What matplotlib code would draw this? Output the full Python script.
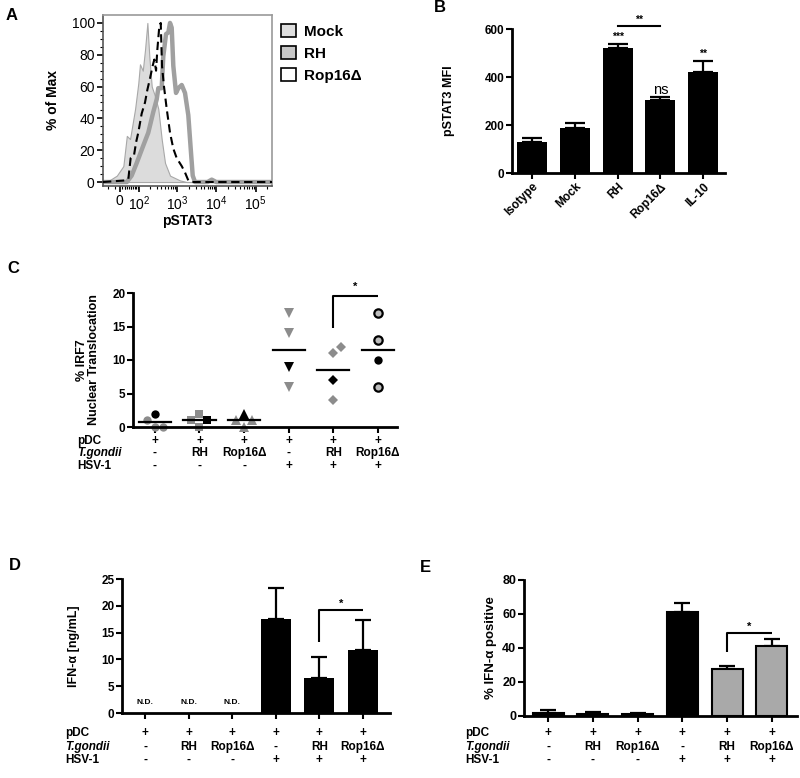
import numpy as np
import matplotlib
matplotlib.use("Agg")
import matplotlib.pyplot as plt
import matplotlib.transforms as mtransforms
from matplotlib.patches import Patch
from matplotlib.ticker import FixedLocator, NullFormatter

plt.rcParams['font.family'] = ['Liberation Sans', 'DejaVu Sans']
plt.rcParams['mathtext.fontset'] = 'custom'
plt.rcParams['mathtext.rm'] = 'Liberation Sans'
plt.rcParams['mathtext.it'] = 'Liberation Sans:italic'
plt.rcParams['mathtext.bf'] = 'Liberation Sans:bold'

W, H = 800, 778

# ---------------- data ----------------
# Panel A: flow cytometry histograms (pSTAT3 intensity vs % of max)
mock_int = [-80, -59, -12, 15, 30, 45, 72, 92, 104, 126, 146, 170, 192, 223, 272, 332, 406, 495, 665, 1197, 1771, 262144]
mock_pct = [0, 0, 4, 10, 29, 27, 46, 62, 74, 70, 83, 100, 79, 60, 54, 46, 27, 12, 4, 1, 0, 0]
rh_int = [-80, 30, 53, 82, 131, 180, 245, 302, 332, 406, 447, 525, 602, 665, 734, 807, 946, 1083, 1323,
          1603, 1946, 2240, 2520, 2884, 6000, 7672, 10000, 262144]
rh_pct = [0, 0, 4, 12, 23, 31, 44, 52, 59, 59, 79, 93, 94, 100, 97, 73, 56, 59, 61,
          56, 42, 21, 4, 0, 0, 1.5, 0, 0]
rop_int = [-80, 22, 37, 48, 66, 78, 92, 117, 146, 170, 200, 236, 261, 290, 313, 353, 384, 414, 466, 547,
           665, 807, 986, 1323, 1603, 1946, 2373, 262144]
rop_pct = [0, 1, 2, 15, 17, 25, 31, 43, 50, 58, 65, 73, 77, 70, 83, 98, 100, 73, 60, 46,
           31, 21, 15, 10, 6, 1, 0, 0]
a_legend = ['Mock', 'RH', 'Rop16Δ']
a_xticks = [0, 100, 1000, 10000, 100000]
a_xticklabels = ['0', r'$10^2$', r'$10^3$', r'$10^4$', r'$10^5$']

# Panel B: pSTAT3 MFI
b_cats = ['Isotype', 'Mock', 'RH', 'Rop16Δ', 'IL-10']
b_vals = [130, 188, 520, 304, 422]
b_err = [16, 19, 17, 11, 46]
b_sig = ['', '', '***', 'ns', '**']

# Shared condition table (C, D, E)
cond_pdc = ['+', '+', '+', '+', '+', '+']
cond_tg = ['-', 'RH', 'Rop16Δ', '-', 'RH', 'Rop16Δ']
cond_hsv = ['-', '-', '-', '+', '+', '+']

# Panel C: % IRF7 nuclear translocation (individual points)
c_vals = [[2, 0, 0, 1], [2, 0, 1, 1], [2, 1, 0, 1], [17, 14, 9, 6], [11, 12, 7, 4], [17, 13, 10, 6]]
c_black = [0, 2, 0, 2, 2, 2]

# Panel D: IFN-alpha ng/mL (NaN = not detected)
d_vals = [np.nan, np.nan, np.nan, 17.6, 6.6, 11.8]
d_err = [np.nan, np.nan, np.nan, 5.8, 3.9, 5.5]

# Panel E: % IFN-alpha positive
e_vals = [2.0, 1.4, 1.0, 61.3, 27.5, 41.3]
e_err = [1.3, 1.2, 0.8, 4.9, 2.0, 3.9]

# ---------------- helpers ----------------
fig = plt.figure(figsize=(8.0, 7.78), dpi=100)


def box(l, t, r, b):
    return [l / W, 1 - b / H, (r - l) / W, (b - t) / H]


def fy(y):
    return 1 - y / H


def style_axes(ax, fs=8):
    for s in ['top', 'right']:
        ax.spines[s].set_visible(False)
    for s in ['left', 'bottom']:
        ax.spines[s].set_linewidth(2)
    ax.tick_params(direction='out', length=4, width=1.5, labelsize=fs, pad=1.5)
    for lab in ax.get_yticklabels():
        lab.set_fontweight('bold')


def panel_letter(x, y, s):
    fig.text(x / W, fy(y), s, fontsize=12, fontweight='bold', ha='center', va='center')


def draw_table(ax, label_x, rows_y):
    trans = mtransforms.blended_transform_factory(ax.transData, fig.transFigure)
    names = ['pDC', 'T.gondii', 'HSV-1']
    rows = [cond_pdc, cond_tg, cond_hsv]
    for name, row, y in zip(names, rows, rows_y):
        fig.text(label_x / W, fy(y), name, fontsize=8.5, fontweight='bold',
                 fontstyle='italic' if name == 'T.gondii' else 'normal', ha='left', va='center')
        for i, v in enumerate(row):
            ax.text(i, fy(y), v, transform=trans, fontsize=8.5, fontweight='bold',
                    ha='center', va='center')


def swarm_offsets(vals, step, px_x, px_y, min_px):
    placed = []
    for v in vals:
        for k in [0, 1, -1, 2, -2]:
            if all(np.hypot((k - pk) * step * px_x, (v - pv) * px_y) >= min_px - 1e-6 for pk, pv in placed):
                break
        placed.append((k, v))
    return [k * step for k, _ in placed]


def bracket(ax, x0, x1, y0, y1, star, ystar, fs=8):
    ax.plot([x0, x0, x1], [y0, y1, y1], color='k', lw=1.5, clip_on=False, solid_capstyle='butt')
    ax.text((x0 + x1) / 2, ystar, star, ha='center', va='center', fontsize=fs, fontweight='bold')


# ---------------- Panel A ----------------
axA = fig.add_axes(box(103, 15, 272, 186))
axA.set_xscale('asinh', linear_width=70)
axA.fill_between(mock_int, mock_pct, 0, facecolor='#dcdcdc', edgecolor='#a8a8a8', lw=0.8, zorder=1)
axA.plot(rh_int, rh_pct, color='#a0a0a0', lw=3.2, zorder=2)
axA.plot(rop_int, rop_pct, color='black', lw=1.5, dashes=(4, 2.2), zorder=3)
axA.set_xlim(-80, 262144)
axA.set_ylim(-2.5, 105)
axA.xaxis.set_major_locator(FixedLocator(a_xticks))
axA.set_xticklabels(a_xticklabels)
minors = [k * 10 ** e for e in range(1, 6) for k in range(2, 10)] + [-50, -20, 10, 20, 50]
axA.xaxis.set_minor_locator(FixedLocator([m for m in minors if m < 262144]))
axA.xaxis.set_minor_formatter(NullFormatter())
axA.set_yticks([0, 20, 40, 60, 80, 100])
axA.yaxis.set_minor_locator(FixedLocator(np.arange(0, 101, 5)))
axA.tick_params(axis='both', which='major', direction='out', length=4, width=1.2, labelsize=10, pad=2)
axA.tick_params(axis='both', which='minor', direction='out', length=2, width=0.8)
for s in ['top', 'right']:
    axA.spines[s].set_color('#9a9a9a')
    axA.spines[s].set_linewidth(1.2)
for s in ['left', 'bottom']:
    axA.spines[s].set_color('#555555')
    axA.spines[s].set_linewidth(1.2)
axA.set_ylabel('% of Max', fontsize=10, fontweight='bold')
axA.yaxis.set_label_coords(-0.254, 0.5)
axA.set_xlabel('pSTAT3', fontsize=10, fontweight='bold', labelpad=1)
handles = [Patch(facecolor='#dedede', edgecolor='black', lw=1.2),
           Patch(facecolor='#c8c8c8', edgecolor='black', lw=1.2),
           Patch(facecolor='white', edgecolor='black', lw=1.2)]
leg = fig.legend(handles, a_legend, loc='upper left', bbox_to_anchor=(270 / W, fy(13)),
                 frameon=False, prop={'weight': 'bold', 'size': 11}, handlelength=1.0,
                 handleheight=1.0, handletextpad=0.5, labelspacing=0.45, borderpad=0.2)
panel_letter(12, 16, 'A')

# ---------------- Panel B ----------------
axB = fig.add_axes(box(512, 29, 725, 173))
xb = np.arange(len(b_cats))
axB.bar(xb, b_vals, width=0.7, color='black', zorder=2)
axB.errorbar(xb, b_vals, yerr=[np.zeros(len(b_vals)), b_err], fmt='none', ecolor='black',
             elinewidth=1.6, capsize=7, capthick=1.6, zorder=1)
axB.set_xlim(-0.47, 4.51)
axB.set_ylim(0, 600)
axB.set_yticks([0, 200, 400, 600])
axB.set_xticks(xb)
axB.set_xticklabels(b_cats, rotation=45, ha='right', rotation_mode='anchor', fontweight='bold', fontsize=8.5)
style_axes(axB, 8.5)
axB.set_ylabel('pSTAT3 MFI', fontsize=9, fontweight='bold')
axB.yaxis.set_label_coords(-0.268, 0.5)
for i, s in enumerate(b_sig):
    if s == 'ns':
        axB.text(i, b_vals[i] + b_err[i] + 32, s, ha='center', va='center', fontsize=10.5)
    elif s:
        axB.text(i, b_vals[i] + b_err[i] + 30, s, ha='center', va='center', fontsize=7.5, fontweight='bold')
axB.plot([2, 3], [612, 612], color='black', lw=1.5, clip_on=False)
axB.text(2.5, 640, '**', ha='center', va='center', fontsize=7.5, fontweight='bold')
panel_letter(440, 8, 'B')

# ---------------- Panel C ----------------
axC = fig.add_axes(box(133, 293, 397, 427))
markers = ['o', 's', '^', 'v', 'D', 'o']
msizes = [6, 6, 6.5, 6.5, 5.5, 6]
px_x, px_y = 44.6, 134 / 20
for g, vals in enumerate(c_vals):
    offs = swarm_offsets(vals, 0.18, px_x, px_y, 8)
    for j, (v, o) in enumerate(zip(vals, offs)):
        black = (j == c_black[g])
        if g == 5 and not black:
            fc, ec, mew = '#bdbdbd', 'black', 1.6
        elif black:
            fc, ec, mew = 'black', 'black', 0
        else:
            fc, ec, mew = '#8c8c8c', '#8c8c8c', 0
        axC.plot(g + o, v, marker=markers[g], ms=msizes[g], mfc=fc, mec=ec, mew=mew,
                 ls='none', clip_on=False, zorder=3 if black else 2)
    m = np.mean(vals)
    axC.plot([g - 0.36, g + 0.36], [m, m], color='black', lw=1.6, zorder=4, clip_on=False)
axC.set_xlim(-0.49, 5.43)
axC.set_ylim(0, 20)
axC.set_yticks([0, 5, 10, 15, 20])
axC.set_xticks(range(6))
axC.set_xticklabels([])
style_axes(axC, 8.5)
axC.set_ylabel('% IRF7\nNuclear Translocation', fontsize=9, fontweight='bold', linespacing=1.0)
axC.yaxis.set_label_coords(-0.125, 0.5)
bracket(axC, 4, 5, 14.8, 19.5, '*', 20.9)
draw_table(axC, 77, [441, 453, 466])
panel_letter(13, 268, 'C')

# ---------------- Panel D ----------------
axD = fig.add_axes(box(122, 579, 390, 713))
xd = np.arange(len(d_vals))
dv = np.array(d_vals)
de = np.array(d_err)
ok = ~np.isnan(dv)
axD.bar(xd[ok], dv[ok], width=0.69, color='black', zorder=2)
axD.errorbar(xd[ok], dv[ok], yerr=[np.zeros(ok.sum()), de[ok]], fmt='none', ecolor='black',
             elinewidth=1.6, capsize=6, capthick=1.6, zorder=1)
for i in xd[~ok]:
    axD.text(i, 1.9, 'N.D.', ha='center', va='center', fontsize=6, fontweight='bold')
axD.set_xlim(-0.53, 5.62)
axD.set_ylim(0, 25)
axD.set_yticks([0, 5, 10, 15, 20, 25])
axD.set_xticks(range(6))
axD.set_xticklabels([])
style_axes(axD, 8.5)
axD.set_ylabel('IFN-α [ng/mL]', fontsize=9, fontweight='bold')
axD.yaxis.set_label_coords(-0.157, 0.5)
bracket(axD, 4, 5, 13.2, 19.2, '*', 20.3)
draw_table(axD, 65, [733, 747, 760])
panel_letter(15, 565, 'D')

# ---------------- Panel E ----------------
axE = fig.add_axes(box(524, 580, 797, 716))
xe = np.arange(len(e_vals))
e_colors = ['black', 'black', 'black', 'black', '#a9a9a9', '#a9a9a9']
axE.bar(xe, e_vals, width=0.69, color=e_colors, edgecolor='black', linewidth=1.5, zorder=2)
axE.errorbar(xe, e_vals, yerr=[np.zeros(len(e_vals)), e_err], fmt='none', ecolor='black',
             elinewidth=1.6, capsize=6, capthick=1.6, zorder=1)
axE.set_xlim(-0.54, 5.56)
axE.set_ylim(0, 80)
axE.set_yticks([0, 20, 40, 60, 80])
axE.set_xticks(range(6))
axE.set_xticklabels([])
style_axes(axE, 9)
axE.set_ylabel('% IFN-α positive', fontsize=9.5, fontweight='bold')
axE.yaxis.set_label_coords(-0.099, 0.5)
bracket(axE, 4, 5, 37.7, 49.1, '*', 52.5)
draw_table(axE, 465, [733, 747, 760])
panel_letter(425, 567, 'E')

fig.savefig('out.png', dpi=100)
